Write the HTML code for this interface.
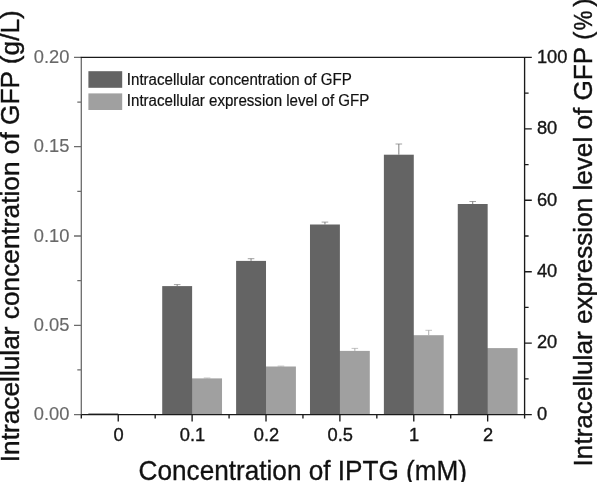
<!DOCTYPE html>
<html lang="en"><head><meta charset="utf-8"><title>GFP vs IPTG</title>
<style>html,body{margin:0;padding:0;background:#fff}svg{display:block}text{font-family:"Liberation Sans",Arial,sans-serif}</style></head><body>
<svg width="597" height="482" viewBox="0 0 597 482">
<rect width="597" height="482" fill="#fff"/>
<rect x="88.34" y="413.40" width="29.90" height="1.20" fill="#646464"/>
<rect x="191.12" y="378.40" width="30.90" height="36.20" fill="#a0a0a0"/>
<path d="M207.07 378.40V378.00" stroke="#a4a4a4" stroke-width="0.9" fill="none"/><path d="M203.77 378.00H210.38" stroke="#a4a4a4" stroke-width="0.65" fill="none"/>
<rect x="162.22" y="286.10" width="29.90" height="128.50" fill="#646464"/>
<path d="M177.18 286.10V284.60" stroke="#707070" stroke-width="0.9" fill="none"/><path d="M173.88 284.60H180.48" stroke="#707070" stroke-width="0.65" fill="none"/>
<rect x="265.01" y="366.50" width="30.90" height="48.10" fill="#a0a0a0"/>
<path d="M280.96 366.50V366.10" stroke="#a4a4a4" stroke-width="0.9" fill="none"/><path d="M277.66 366.10H284.26" stroke="#a4a4a4" stroke-width="0.65" fill="none"/>
<rect x="236.11" y="260.90" width="29.90" height="153.70" fill="#646464"/>
<path d="M251.06 260.90V258.70" stroke="#707070" stroke-width="0.9" fill="none"/><path d="M247.76 258.70H254.36" stroke="#707070" stroke-width="0.65" fill="none"/>
<rect x="338.89" y="350.90" width="30.90" height="63.70" fill="#a0a0a0"/>
<path d="M354.84 350.90V348.40" stroke="#a4a4a4" stroke-width="0.9" fill="none"/><path d="M351.54 348.40H358.14" stroke="#a4a4a4" stroke-width="0.65" fill="none"/>
<rect x="309.99" y="224.50" width="29.90" height="190.10" fill="#646464"/>
<path d="M324.94 224.50V222.10" stroke="#707070" stroke-width="0.9" fill="none"/><path d="M321.64 222.10H328.24" stroke="#707070" stroke-width="0.65" fill="none"/>
<rect x="412.78" y="335.20" width="30.90" height="79.40" fill="#a0a0a0"/>
<path d="M428.73 335.20V330.30" stroke="#a4a4a4" stroke-width="0.9" fill="none"/><path d="M425.43 330.30H432.03" stroke="#a4a4a4" stroke-width="0.65" fill="none"/>
<rect x="383.88" y="154.70" width="29.90" height="259.90" fill="#646464"/>
<path d="M398.83 154.70V144.00" stroke="#707070" stroke-width="0.9" fill="none"/><path d="M395.53 144.00H402.13" stroke="#707070" stroke-width="0.65" fill="none"/>
<rect x="486.66" y="348.10" width="30.90" height="66.50" fill="#a0a0a0"/>
<rect x="457.76" y="204.00" width="29.90" height="210.60" fill="#646464"/>
<path d="M472.71 204.00V201.50" stroke="#707070" stroke-width="0.9" fill="none"/><path d="M469.41 201.50H476.01" stroke="#707070" stroke-width="0.65" fill="none"/>
<path d="M81.30 57.40V414.60M81.30 414.60H74.00M81.30 325.30H74.00M81.30 236.00H74.00M81.30 146.70H74.00M81.30 57.40H74.00M81.30 369.95H77.30M81.30 280.65H77.30M81.30 191.35H77.30M81.30 102.05H77.30" stroke="#6c6c6c" stroke-width="1.3" fill="none"/>
<path d="M80.70 57.40H524.60M524.60 57.40V418.60M81.30 414.60H524.60M524.60 414.60H531.80M524.60 343.16H531.80M524.60 271.72H531.80M524.60 200.28H531.80M524.60 128.84H531.80M524.60 57.40H531.80M524.60 378.88H528.60M524.60 307.44H528.60M524.60 236.00H528.60M524.60 164.56H528.60M524.60 93.12H528.60M118.24 414.60V421.60M192.12 414.60V421.60M266.01 414.60V421.60M339.89 414.60V421.60M413.78 414.60V421.60M487.66 414.60V421.60M81.30 414.60V418.60M155.18 414.60V418.60M229.07 414.60V418.60M302.95 414.60V418.60M376.83 414.60V418.60M450.72 414.60V418.60M524.60 414.60V418.60" stroke="#1a1a1a" stroke-width="1.35" fill="none"/>
<text transform="translate(69.40 420.30) scale(1 1.04)" font-size="18.3" text-anchor="end" fill="#686868" stroke="#686868" stroke-width="0.15">0.00</text>
<text transform="translate(69.40 331.00) scale(1 1.04)" font-size="18.3" text-anchor="end" fill="#686868" stroke="#686868" stroke-width="0.15">0.05</text>
<text transform="translate(69.40 241.70) scale(1 1.04)" font-size="18.3" text-anchor="end" fill="#686868" stroke="#686868" stroke-width="0.15">0.10</text>
<text transform="translate(69.40 152.40) scale(1 1.04)" font-size="18.3" text-anchor="end" fill="#686868" stroke="#686868" stroke-width="0.15">0.15</text>
<text transform="translate(69.40 63.10) scale(1 1.04)" font-size="18.3" text-anchor="end" fill="#686868" stroke="#686868" stroke-width="0.15">0.20</text>
<text transform="translate(536.90 419.90) scale(1 1.04)" font-size="18.3" fill="#151515" stroke="#151515" stroke-width="0.35">0</text>
<text transform="translate(536.90 348.46) scale(1 1.04)" font-size="18.3" fill="#151515" stroke="#151515" stroke-width="0.35">20</text>
<text transform="translate(536.90 277.02) scale(1 1.04)" font-size="18.3" fill="#151515" stroke="#151515" stroke-width="0.35">40</text>
<text transform="translate(536.90 205.58) scale(1 1.04)" font-size="18.3" fill="#151515" stroke="#151515" stroke-width="0.35">60</text>
<text transform="translate(536.90 134.14) scale(1 1.04)" font-size="18.3" fill="#151515" stroke="#151515" stroke-width="0.35">80</text>
<text transform="translate(536.90 62.70) scale(1 1.04)" font-size="18.3" fill="#151515" stroke="#151515" stroke-width="0.35">100</text>
<text transform="translate(118.64 441.20) scale(1 1.01)" font-size="18.3" text-anchor="middle" fill="#151515" stroke="#151515" stroke-width="0.35">0</text>
<text transform="translate(192.53 441.20) scale(1 1.01)" font-size="18.3" text-anchor="middle" fill="#151515" stroke="#151515" stroke-width="0.35">0.1</text>
<text transform="translate(266.41 441.20) scale(1 1.01)" font-size="18.3" text-anchor="middle" fill="#151515" stroke="#151515" stroke-width="0.35">0.2</text>
<text transform="translate(340.29 441.20) scale(1 1.01)" font-size="18.3" text-anchor="middle" fill="#151515" stroke="#151515" stroke-width="0.35">0.5</text>
<text transform="translate(414.18 441.20) scale(1 1.01)" font-size="18.3" text-anchor="middle" fill="#151515" stroke="#151515" stroke-width="0.35">1</text>
<text transform="translate(488.06 441.20) scale(1 1.01)" font-size="18.3" text-anchor="middle" fill="#151515" stroke="#151515" stroke-width="0.35">2</text>
<rect x="88.4" y="71.2" width="33.8" height="16.6" fill="#646464"/>
<rect x="88.4" y="93.4" width="33.8" height="16.6" fill="#a0a0a0"/>
<text transform="translate(126.80 85.20) scale(1 1.04)" font-size="15.2" textLength="225" lengthAdjust="spacingAndGlyphs" fill="#111" stroke="#111" stroke-width="0.2">Intracellular concentration of GFP</text>
<text transform="translate(126.80 106.40) scale(1 1.04)" font-size="15.2" textLength="242.5" lengthAdjust="spacingAndGlyphs" fill="#111" stroke="#111" stroke-width="0.2">Intracellular expression level of GFP</text>
<text transform="translate(138.60 480.00) scale(1 1.045)" font-size="26" textLength="328.5" lengthAdjust="spacingAndGlyphs" fill="#111" stroke="#111" stroke-width="0.3">Concentration of IPTG (mM)</text>
<text transform="translate(18.9 462.2) rotate(-90)" font-size="25.2" fill="#111" stroke="#111" stroke-width="0.4" textLength="452" lengthAdjust="spacingAndGlyphs">Intracellular concentration of GFP (g/L)</text>
<text transform="translate(592.0 466.4) rotate(-90)" font-size="25.4" fill="#111" stroke="#111" stroke-width="0.4" textLength="419.6" lengthAdjust="spacingAndGlyphs">Intracellular expression level of GFP</text>
<text transform="translate(592.0 39.9) rotate(-90)" font-size="25.4" fill="#111" stroke="#111" stroke-width="0.4">(</text>
<text transform="translate(592.0 30.2) rotate(-90)" font-size="25.4" fill="#111" stroke="#111" stroke-width="0.4" textLength="19.6" lengthAdjust="spacingAndGlyphs">%</text>
<text transform="translate(592.0 6.8) rotate(-90)" font-size="25.4" fill="#111" stroke="#111" stroke-width="0.4">)</text>
</svg></body></html>
